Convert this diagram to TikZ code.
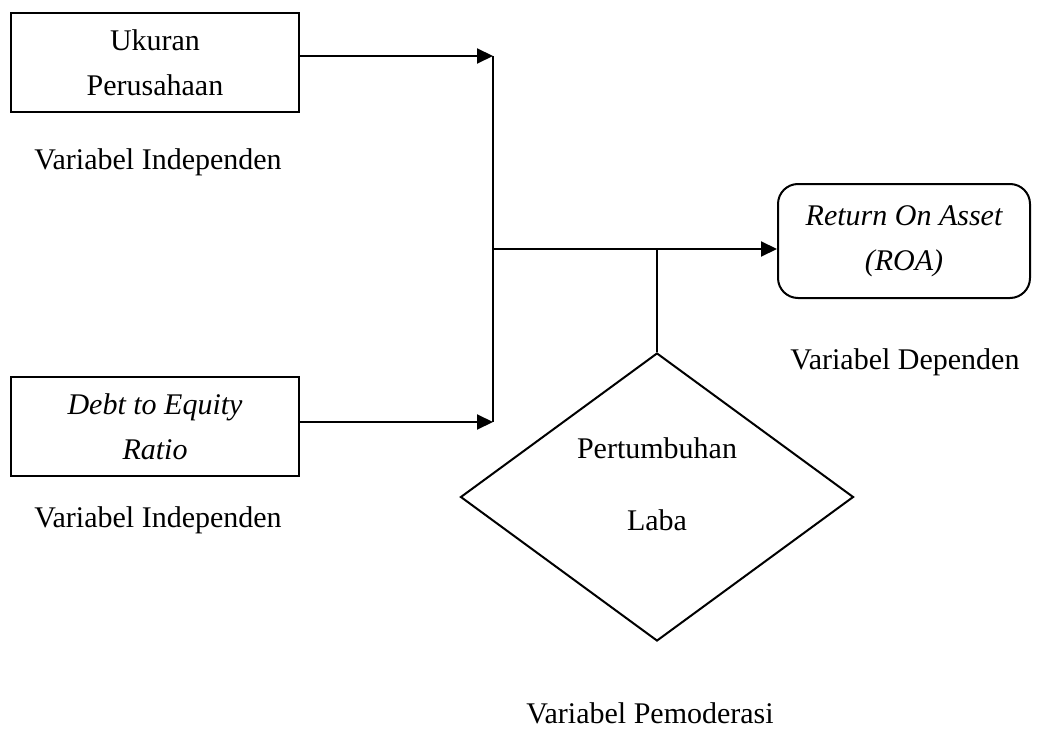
\documentclass[tikz,border=0pt]{standalone}
\usepackage{fontspec}
\setmainfont{Liberation Serif}
\usepackage{tikz}
\usetikzlibrary{shapes.geometric,arrows.meta,positioning,calc}

\begin{document}
\begin{tikzpicture}[x=0.5pt,y=-0.5pt,
  varbox/.style={rectangle,draw,line width=1pt,minimum width=144pt,
                 minimum height=49.5pt,align=center,inner sep=0pt,
                 font=\fontsize{15}{22.5}\selectfont},
  vlbl/.style={font=\fontsize{15}{18}\selectfont,inner sep=0pt},
  arr/.style={-{Triangle[length=8pt,width=7.5pt]},line width=1pt},
  ln/.style={line width=1pt}
]
\useasboundingbox (0,0) rectangle (1043,733);

% Independent variables
\node[varbox] (ukuran) at (155,62.5) {Ukuran\\Perusahaan};
\node[vlbl] (lblUkuran) at (158,162) {Variabel Independen};
\node[varbox] (der) at (155,426.5) {\itshape Debt to Equity\\\itshape Ratio};
\node[vlbl] (lblDer) at (158,520) {Variabel Independen};

% Dependent variable
\node[varbox,rounded corners=10pt,minimum width=126pt,minimum height=57pt]
  (roa) at (904,241) {\itshape Return On Asset\\\itshape (ROA)};
\node[vlbl] (lblRoa) at (905,362) {Variabel Dependen};

% Moderating variable
\node[diamond,draw,line width=1pt,minimum width=196.5pt,minimum height=144pt,
      inner sep=0pt,align=center,text depth=13pt,
      font=\fontsize{15}{36}\selectfont]
  (laba) at (657,497) {Pertumbuhan\\Laba};
\node[vlbl] (lblLaba) at (650,713) {Variabel Pemoderasi};

% Connectors
\coordinate (jTop) at (493,56);
\coordinate (jBot) at (493,422);
\coordinate (jMid) at (493,249);
\coordinate (jMod) at (657,249);
\draw[arr] (ukuran.east |- jTop) -- (jTop);
\draw[arr] (der.east |- jBot) -- (jBot);
\draw[ln] (jTop) -- (jBot);
\draw[arr] (jMid) -- (roa.west |- jMid);
\draw[ln] (jMod) -- (laba.north);
\end{tikzpicture}
\end{document}
